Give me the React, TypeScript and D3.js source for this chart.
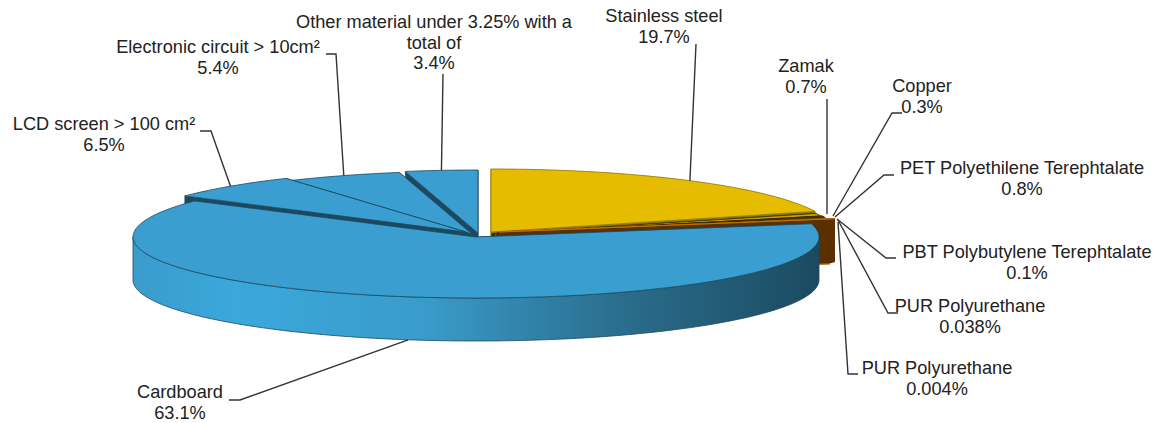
import * as d3 from 'd3';

// values, clockwise from 12 o'clock
const materials = [
  'Stainless steel',
  'Zamak',
  'Copper',
  'PET Polyethilene Terephtalate',
  'PBT Polybutylene Terephtalate',
  'PUR Polyurethane',
  'PUR Polyurethane',
  'Cardboard',
  'LCD screen > 100 cm²',
  'Electronic circuit > 10cm²',
  'Other material under 3.25% with a total of',
];
const shares = [19.7, 0.7, 0.3, 0.8, 0.1, 0.038, 0.004, 63.1, 6.5, 5.4, 3.4];
const shareLabels = ['19.7%', '0.7%', '0.3%', '0.8%', '0.1%', '0.038%', '0.004%', '63.1%', '6.5%', '5.4%', '3.4%'];
const topColors = ['#e6bc00', '#c9a200', '#5a4200', '#d8ae00', '#6a4400', '#c87400', '#c87400', '#3a9fd0', '#3a9fd0', '#3a9fd0', '#3a9fd0'];
const sideColors = ['#8a7400', '#3a2e00', '#3a2a00', '#8a7000', '#3a2a00', '#5a3000', '#5a3000', '#1b4a60', '#1b4a60', '#1b4a60', '#1b4a60'];
const edgeColors = ['#8a7400', '#3a2e00', '#3a2a00', '#6a5400', '#3a2a00', '#c87400', '#c87400', '#1b4a60', '#1b4a60', '#1b4a60', '#1b4a60'];

// layout
const width = 1158;
const height = 423;
const rx = 343;
const ryBack = 63;
const ryFront = 61;
const depth = 43;
const centers: [number, number][] = [
  [491, 232], [492, 234], [494, 234], [495, 235], [497, 233], [499, 232], [499, 232],
  [476, 237], [466, 232], [472, 234], [478, 233],
];
// label line centres: [x, first baseline]
const labelAt: [number, number][] = [
  [664, 22], [806, 72], [922, 92], [1022, 174], [1027, 258], [970, 312], [937, 374],
  [180, 398], [104, 130], [218, 53], [434, 28],
];
const labelLines: string[][] = [
  [materials[0]], [materials[1]], [materials[2]], [materials[3]], [materials[4]], [materials[5]], [materials[6]],
  [materials[7]], [materials[8]], [materials[9]],
  ['Other material under 3.25% with a', 'total of'],
];
const leaderElbows: [number, number][][] = [
  [[696, 44]],
  [[827, 99], [827, 214]],
  [[902, 113], [892, 113], [833, 216]],
  [[894, 175], [884, 175], [835, 217]],
  [[896, 258], [886, 258], [837, 219]],
  [[898, 313], [888, 313], [838, 220]],
  [[858, 374], [848, 374], [838, 222]],
  [[229, 400], [240, 400]],
  [[200, 131], [211, 131]],
  [[326, 54], [336, 54]],
  [[443, 74]],
];
// only the slices wide enough to take a leader on their own rim
const leaderToRim = [true, false, false, false, false, false, false, true, true, true, true];

const rim = (i: number, a: number, drop = 0): [number, number] => {
  const [cx, cy] = centers[i];
  const c = Math.cos(a);
  return [cx + rx * Math.sin(a), cy - (c > 0 ? ryBack : ryFront) * c + drop];
};
const arcPoints = (i: number, a0: number, a1: number, drop = 0) => {
  const n = Math.max(2, Math.ceil(Math.abs(a1 - a0) / 0.02));
  return d3.range(n + 1).map((k) => rim(i, a0 + ((a1 - a0) * k) / n, drop));
};
const line = d3.line();

const slices = d3.pie<number>().sort(null).value((d) => d)(shares);

// back to front; the cardboard goes last so it sits over everything
const drawOrder = [10, 9, 8, 0, 1, 2, 3, 4, 5, 6, 7];

const App = () => {
  return (
    <svg
      width={width}
      height={height}
      viewBox={`0 0 ${width} ${height}`}
      style={{ position: 'absolute', left: 0, top: 0, fontFamily: '"Liberation Sans", Arial, sans-serif' }}
    >
      <defs>
        <linearGradient id="wall" gradientUnits="userSpaceOnUse" x1={133} x2={819} y1={0} y2={0}>
          <stop offset="0" stopColor="#3a9ccb" />
          <stop offset="0.15" stopColor="#3aa8dc" />
          <stop offset="0.42" stopColor="#3a9ccb" />
          <stop offset="0.7" stopColor="#2b6f8f" />
          <stop offset="1" stopColor="#1b4a60" />
        </linearGradient>
      </defs>

      {drawOrder.map((i) => {
        const s = slices[i];
        const [cx, cy] = centers[i];
        const side = sideColors[i];
        const face = (a: number) =>
          line([[cx, cy], rim(i, a), rim(i, a, depth), [cx, cy + depth]]) + 'Z';
        const wallFrom = Math.max(s.startAngle, Math.PI / 2);
        const wallTo = Math.min(s.endAngle, (3 * Math.PI) / 2);
        const wall =
          wallTo > wallFrom
            ? line([...arcPoints(i, wallFrom, wallTo), ...arcPoints(i, wallTo, wallFrom, depth)]) + 'Z'
            : null;
        const top = line([[cx, cy], ...arcPoints(i, s.startAngle, s.endAngle)]) + 'Z';
        return (
          <g key={i} strokeLinejoin="round">
            <path d={face(s.startAngle)} fill={side} stroke={side} strokeWidth={0.6} />
            <path d={face(s.endAngle)} fill={side} stroke={side} strokeWidth={0.6} />
            {wall && <path d={wall} fill="url(#wall)" stroke="#1b4a60" strokeWidth={0.8} />}
            <path d={top} fill={topColors[i]} stroke={edgeColors[i]} strokeWidth={0.8} />
          </g>
        );
      })}

      {slices.map((s, i) => {
        const mid = (s.startAngle + s.endAngle) / 2;
        const front = Math.cos(mid) < 0;
        const points = leaderToRim[i]
          ? [...leaderElbows[i], rim(i, mid, front ? depth : 0)]
          : leaderElbows[i];
        return <path key={i} d={line(points) ?? ''} fill="none" stroke="#333" strokeWidth={1.4} />;
      })}

      {labelLines.map((lines, i) => (
        <text key={i} fontSize={18.2} fill="#222" textAnchor="middle">
          {[...lines, shareLabels[i]].map((t, k) => (
            <tspan key={k} x={labelAt[i][0]} y={labelAt[i][1] + k * 20.6}>
              {t}
            </tspan>
          ))}
        </text>
      ))}
    </svg>
  );
};

export default App;
